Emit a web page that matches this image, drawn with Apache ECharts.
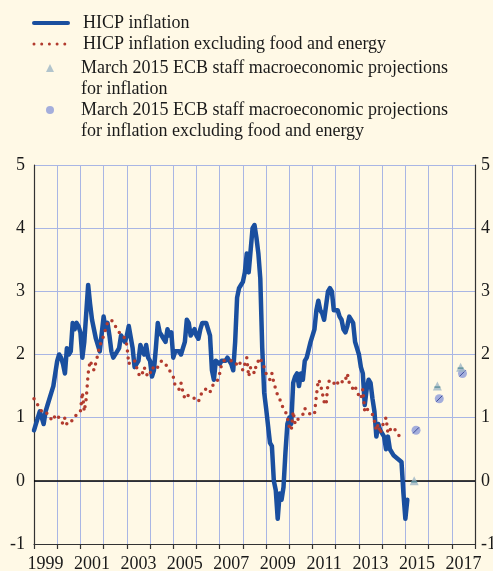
<!DOCTYPE html>
<html>
<head>
<meta charset="utf-8">
<script src="https://cdn.jsdelivr.net/npm/echarts@6/dist/echarts.min.js"></script>
<style>
  html, body { margin: 0; padding: 0; background: #fff9e6; }
  #main { width: 493px; height: 571px; }
</style>
</head>
<body>
<div id="main"></div>
<script>
var myChart = echarts.init(document.getElementById('main'));

// monthly data, first value = Jan 1999
const startYear = 1999;

// HICP inflation (annual % change)
const hicp = [
  0.8, 0.8, 1.0, 1.1, 1.0, 0.9, 1.1, 1.2, 1.2, 1.4, 1.5, 1.7,        // 1999
  1.9, 2.0, 1.95, 1.85, 1.7, 2.1, 2.0, 2.05, 2.5, 2.4, 2.5, 2.45,    // 2000
  2.35, 1.95, 2.2, 2.65, 3.1, 2.8, 2.55, 2.4, 2.25, 2.25, 2.05, 2.05, // 2001
  2.6, 2.4, 2.5, 2.3, 2.05, 1.95, 1.95, 2.05, 2.1, 2.3, 2.3, 2.2,    // 2002
  2.3, 2.45, 2.45, 2.1, 1.8, 1.8, 1.9, 2.15, 2.05, 2.0, 2.15, 1.95,  // 2003
  1.9, 1.65, 1.75, 2.1, 2.5, 2.35, 2.3, 2.25, 2.2, 2.4, 2.3, 2.35,   // 2004
  1.95, 2.05, 2.05, 2.05, 2.0, 2.1, 2.2, 2.55, 2.5, 2.3, 2.3, 2.4,   // 2005
  2.3, 2.25, 2.4, 2.5, 2.5, 2.5, 2.4, 2.3, 1.75, 1.6, 1.9, 1.9,      // 2006
  1.85, 1.9, 1.9, 1.9, 1.95, 1.9, 1.85, 1.75, 2.2, 2.9, 3.05, 3.1,   // 2007
  3.15, 3.3, 3.6, 3.3, 3.65, 4.0, 4.05, 3.85, 3.6, 3.2, 2.1, 1.4,    // 2008
  1.15, 1.15, 0.6, 0.55, 0.0, -0.15, -0.6, -0.2, -0.3, -0.1, 0.45, 0.9, // 2009
  1.0, 0.9, 1.55, 1.65, 1.7, 1.5, 1.7, 1.6, 1.9, 1.95, 1.95, 2.2,    // 2010
  2.3, 2.4, 2.7, 2.85, 2.7, 2.65, 2.55, 2.55, 3.0, 3.05, 3.0, 2.7,   // 2011
  2.7, 2.7, 2.6, 2.55, 2.4, 2.35, 2.45, 2.6, 2.6, 2.5, 2.2, 2.2,     // 2012
  2.0, 1.8, 1.7, 1.2, 1.45, 1.6, 1.55, 1.3, 1.1, 0.7, 0.9, 0.8,      // 2013
  0.8, 0.7, 0.5, 0.7, 0.5, 0.5, 0.4, 0.4, 0.35, 0.35, 0.3, -0.2,     // 2014
  -0.6, -0.3                                                        // 2015
];

// HICP inflation excluding food and energy
const hicpCore = [
  1.3, 1.3, 1.2, 1.2, 1.1, 1.1, 1.1, 1.1, 1.0, 1.0, 0.95, 1.05,      // 1999
  1.05, 1.0, 1.0, 0.9, 1.0, 0.9, 0.95, 0.95, 0.95, 1.0, 1.05, 1.05,  // 2000
  1.1, 1.4, 1.1, 1.3, 1.7, 1.9, 1.9, 1.75, 1.75, 2.0, 2.15, 2.2,     // 2001
  2.3, 2.4, 2.5, 2.5, 2.55, 2.5, 2.45, 2.4, 2.35, 2.35, 2.3, 2.25,   // 2002
  2.15, 1.85, 1.9, 1.9, 1.9, 1.8, 1.7, 1.65, 1.7, 1.8, 1.7, 1.65,    // 2003
  1.7, 1.8, 1.8, 1.75, 1.8, 1.85, 1.9, 1.9, 1.85, 1.8, 1.75, 1.75,   // 2004
  1.65, 1.5, 1.5, 1.45, 1.55, 1.4, 1.3, 1.35, 1.35, 1.35, 1.35, 1.3, // 2005
  1.3, 1.25, 1.35, 1.4, 1.45, 1.45, 1.45, 1.4, 1.5, 1.5, 1.55, 1.6,  // 2006
  1.7, 1.85, 1.9, 1.9, 1.9, 1.9, 1.9, 1.85, 1.85, 1.85, 1.9, 1.9,    // 2007
  1.75, 1.85, 1.95, 1.65, 1.8, 1.75, 1.7, 1.85, 1.9, 1.95, 1.85, 1.8, // 2008
  1.7, 1.65, 1.6, 1.7, 1.55, 1.45, 1.35, 1.3, 1.2, 1.15, 1.1, 1.0,   // 2009
  0.85, 0.8, 1.1, 0.9, 0.95, 1.0, 1.0, 1.05, 1.15, 1.1, 1.1, 1.05,   // 2010
  1.05, 1.05, 1.35, 1.6, 1.55, 1.4, 1.25, 1.2, 1.55, 1.6, 1.6, 1.55, // 2011
  1.5, 1.55, 1.6, 1.6, 1.55, 1.6, 1.7, 1.55, 1.5, 1.45, 1.5, 1.4,    // 2012
  1.35, 1.3, 1.45, 1.1, 1.15, 1.1, 1.1, 1.05, 0.95, 0.8, 0.9, 0.75,  // 2013
  0.85, 0.95, 1.0, 0.75, 0.8, 0.85, 0.85, 0.8, 0.75, 0.7, 0.7, 0.7   // 2014
];

// March 2015 ECB staff projections (annual averages)
const projYears = [2015, 2016, 2017];
const projHicp = [0.0, 1.5, 1.8];
const projCore = [0.8, 1.3, 1.7];

// x axis labels (centred on the year)
const yearLabels = [1999, 2001, 2003, 2005, 2007, 2009, 2011, 2013, 2015, 2017];

const names = [
  'HICP inflation',
  'HICP inflation excluding food and energy',
  'March 2015 ECB staff macroeconomic projections\nfor inflation',
  'March 2015 ECB staff macroeconomic projections\nfor inflation excluding food and energy'
];

const FONT = 'Liberation Serif';
const BLUE = '#1a4f9f';
const RED = '#b23b2e';
const GRID = '#a9b6e4';
const TRI = '#9fb7c5';
const DOT = '#8d9bd9';

function monthly(values) {
  return values.map(function (v, i) { return [startYear + i / 12, v]; });
}
function annual(values, shift) {
  return values.map(function (v, i) { return [projYears[i] + shift, v]; });
}

const legendText = { fontFamily: FONT, fontSize: 18, color: '#1a1a1a', lineHeight: 21 };

const option = {
  backgroundColor: '#fff9e6',
  animation: false,
  legend: [
    {
      orient: 'vertical',
      left: 32,
      top: 12.5,
      padding: 0,
      itemGap: 0,
      itemWidth: 34,
      itemHeight: 10,
      selectedMode: false,
      textStyle: Object.assign({ padding: [0, 0, 0, 10] }, legendText),
      data: [
        { name: names[0], itemStyle: { opacity: 0 }, lineStyle: { width: 4, color: BLUE, type: 'solid' } },
        { name: names[1], itemStyle: { opacity: 0 }, lineStyle: { width: 3, color: RED, type: [0, 7.7], cap: 'round' } }
      ]
    },
    {
      // leading blank line so the icon sits on the first text line
      orient: 'vertical',
      left: 46,
      top: 36.5,
      padding: 0,
      itemGap: -21,
      itemWidth: 8,
      itemHeight: 8,
      selectedMode: false,
      formatter: function (name) { return '\n' + name; },
      textStyle: Object.assign({ padding: [0, 0, 0, 22] }, legendText),
      data: [names[2], names[3]]
    }
  ],
  grid: { left: 34, right: 18, top: 165, bottom: 27, outerBoundsMode: 'none', containLabel: false },
  xAxis: {
    type: 'value',
    min: 1999,
    max: 2018,
    interval: 1,
    axisLine: { show: true, onZero: false, lineStyle: { color: '#333', width: 1.2 } },
    axisTick: { show: true, length: 5, lineStyle: { color: '#333', width: 1.2 } },
    axisLabel: {
      customValues: yearLabels.map(function (y) { return y + 0.5; }),
      formatter: function (v) { return String(Math.floor(v)); },
      fontFamily: FONT, fontSize: 18, color: '#1a1a1a', margin: 11
    },
    splitLine: { show: true, lineStyle: { color: GRID, width: 1 } }
  },
  yAxis: [
    {
      type: 'value', min: -1, max: 5, interval: 1, position: 'left',
      axisLine: { show: true, lineStyle: { color: '#333', width: 1.2 } },
      axisTick: { show: false },
      axisLabel: { fontFamily: FONT, fontSize: 18, color: '#1a1a1a', margin: 9 },
      splitLine: { show: true, lineStyle: { color: GRID, width: 1 } }
    },
    {
      type: 'value', min: -1, max: 5, interval: 1, position: 'right',
      axisLine: { show: true, lineStyle: { color: '#333', width: 1.2 } },
      axisTick: { show: false },
      axisLabel: { fontFamily: FONT, fontSize: 18, color: '#1a1a1a', margin: 6 },
      splitLine: { show: false }
    }
  ],
  series: [
    {
      name: names[0],
      type: 'line',
      data: monthly(hicp),
      symbol: 'none',
      color: BLUE,
      lineStyle: { color: BLUE, width: 4.5, cap: 'round', join: 'round' },
      z: 3,
      markLine: {
        silent: true,
        symbol: 'none',
        label: { show: false },
        lineStyle: { color: '#000', width: 1.5, type: 'solid' },
        data: [{ yAxis: 0 }],
        z: 2
      }
    },
    {
      name: names[1],
      type: 'line',
      data: monthly(hicpCore),
      symbol: 'none',
      color: RED,
      lineStyle: { color: RED, width: 3.5, type: [0, 7], cap: 'round' },
      z: 4
    },
    {
      name: names[2],
      type: 'scatter',
      data: annual(projHicp, 0.38),
      symbol: 'triangle',
      symbolSize: [9, 9],
      itemStyle: { color: TRI },
      z: 6
    },
    {
      // stripe across the triangle
      type: 'scatter',
      data: annual(projHicp, 0.38),
      symbol: 'rect',
      symbolSize: [6, 1.3],
      symbolOffset: [0, 1],
      itemStyle: { color: '#3f7f8c' },
      silent: true,
      z: 7
    },
    {
      name: names[3],
      type: 'scatter',
      data: annual(projCore, 0.46),
      symbol: 'circle',
      symbolSize: 9,
      itemStyle: { color: DOT },
      z: 5
    },
    {
      // diagonal hatch in the circle
      type: 'scatter',
      data: annual(projCore, 0.46),
      symbol: 'path://M0 10L10 0',
      symbolSize: 6,
      itemStyle: { color: 'none', borderColor: '#23348a', borderWidth: 1 },
      silent: true,
      z: 5
    }
  ]
};

myChart.setOption(option);
</script>
</body>
</html>
